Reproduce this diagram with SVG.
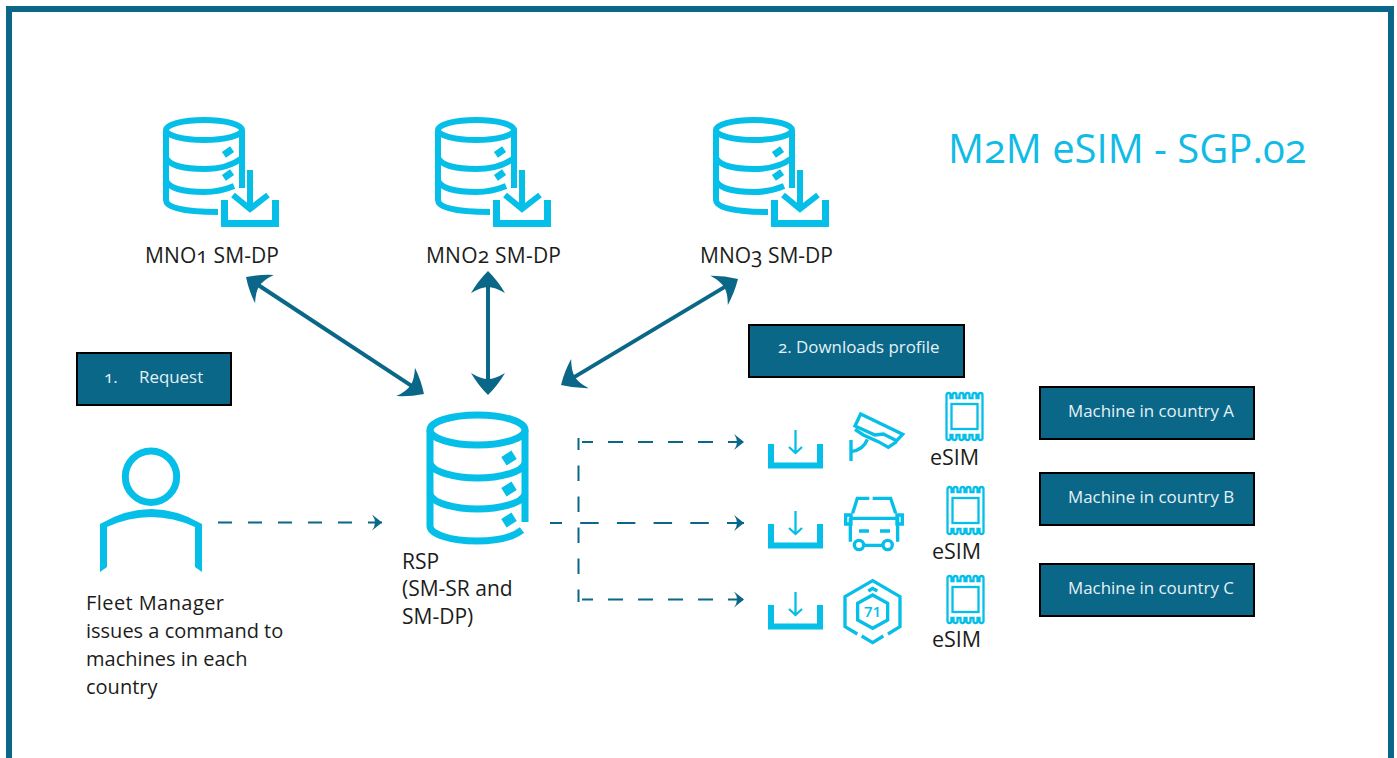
<svg xmlns="http://www.w3.org/2000/svg" width="1397" height="758" viewBox="0 0 1397 758">
<style>
text{font-family:"Open Sans","Noto Sans","Liberation Sans",sans-serif;font-variant-numeric:oldstyle-nums;fill:#1c1c1c;font-size:20px}
.lg{font-size:21px}
.box rect{fill:#0a6788;stroke:#000;stroke-width:2}
.box text{fill:#e4f1f6;font-size:16.900px}
.ic{fill:none;stroke:#05bfe9;stroke-width:6}
.ic7{fill:none;stroke:#05bfe9;stroke-width:7}
.t{fill:none;stroke:#05bfe9;stroke-width:2.3}
.tf{fill:#05bfe9;stroke:none}
.glyph{fill:none;stroke:#05bfe9;stroke-width:10}
.solid{fill:none;stroke:#0a6788;stroke-width:4;marker-start:url(#big);marker-end:url(#big)}
.dash{fill:none;stroke:#0a6788;stroke-width:2}
</style>
<defs>
<marker id="big" markerUnits="userSpaceOnUse" markerWidth="30" markerHeight="40" viewBox="-2 -20 30 40" refX="14" refY="0" orient="auto-start-reverse">
<path d="M22 0Q12 -10 0 -17Q6 -7 6 0Q6 7 0 17Q12 10 22 0Z" fill="#0a6788"/>
</marker>
<marker id="small" markerUnits="userSpaceOnUse" markerWidth="12" markerHeight="18" viewBox="-1 -9 12 18" refX="10" refY="0" orient="auto">
<path d="M10 0Q5 -4 0 -8Q3 -4 3 0Q3 4 0 8Q5 4 10 0Z" fill="#0a6788"/>
</marker>
<g id="dbsmall">
<ellipse class="ic" cx="204" cy="130" rx="38" ry="10"/>
<path class="ic" d="M166 130V200C166 208 185 212 218 212M242 130V188"/>
<path class="ic" d="M166 158Q172 169 204 169Q228 169 242 158M166 181Q172 192 204 192Q220 192 234 186"/>
<rect class="tf" x="-5" y="-3.500" width="10" height="7" transform="translate(228 152) rotate(-35)"/>
<rect class="tf" x="-5" y="-3.500" width="10" height="7" transform="translate(228 175) rotate(-35)"/>
<path class="ic7" d="M224.500 200V223.500H275.500V200"/>
<path class="ic" d="M250 170V208M233 195L250 209L268 195"/>
</g>
<g id="tray">
<path class="ic" d="M771 444V465.500H820V444"/>
</g>
<g id="chip">
<path class="t" d="M0 2Q0 0 2 0Q4 0 4 2V5H6V2Q6 0 8 0Q10 0 10 2V5H13V2Q13 0 15 0Q17 0 17 2V5H19V2Q19 0 21 0Q23 0 23 2V5H26V2Q26 0 28 0Q30 0 30 2V5H32V2Q32 0 34 0Q36 0 36 2V45Q36 47 34 47Q32 47 32 45V42H30V45Q30 47 28 47Q26 47 26 45V42H23V45Q23 47 21 47Q19 47 19 45V42H17V45Q17 47 15 47Q13 47 13 45V42H10V45Q10 47 8 47Q6 47 6 45V42H4V45Q4 47 2 47Q0 47 0 45Z"/>
<rect class="t" x="5" y="11" width="26" height="25"/>
</g>
</defs>
<rect x="9" y="9" width="1382" height="800" fill="#fff" stroke="#0a6788" stroke-width="6"/>
<g id="connectors">
<path class="solid" d="M252.700 281.400L417.300 389.600"/>
<path class="solid" d="M488 279V387"/>
<path class="solid" d="M731.100 283.100L567.900 380.900"/>
<path class="dash" stroke-dasharray="14 16" marker-end="url(#small)" d="M218 522.500H382"/>
<path class="dash" stroke-dasharray="15.500 15.500" stroke-dashoffset="3.500" d="M578.500 438V602"/>
<path class="dash" stroke-dasharray="15 15" stroke-dashoffset="4" marker-end="url(#small)" d="M582 442H744"/>
<path class="dash" stroke-dasharray="15 15" stroke-dashoffset="4" marker-end="url(#small)" d="M582 599.500H744"/>
<path class="dash" stroke-dasharray="18.500 18.200" stroke-dashoffset="6.500" marker-end="url(#small)" d="M550 523H744"/>
</g>
<g id="mno1"><use href="#dbsmall"/><text class="lg" x="145" y="263" textLength="134">MNO1 SM-DP</text></g>
<g id="mno2"><use href="#dbsmall" x="272"/><text class="lg" x="426" y="263" textLength="135">MNO2 SM-DP</text></g>
<g id="mno3"><use href="#dbsmall" x="550"/><text class="lg" x="700" y="263" textLength="133">MNO3 SM-DP</text></g>
<text id="title" x="948" y="163" style="font-size:40px;fill:#10bce6">M2M eSIM - SGP.02</text>
<g id="request" class="box"><rect x="77" y="353" width="154" height="52"/><text x="104" y="383">1.</text><text x="139" y="383">Request</text></g>
<g id="downloads" class="box"><rect x="749" y="325" width="215" height="52"/><text x="778" y="353">2. Downloads profile</text></g>
<g id="machineA" class="box"><rect x="1040" y="387" width="214" height="52"/><text x="1068" y="417">Machine in country A</text></g>
<g id="machineB" class="box"><rect x="1040" y="473" width="214" height="52"/><text x="1068" y="503">Machine in country B</text></g>
<g id="machineC" class="box"><rect x="1040" y="564" width="214" height="52"/><text x="1068" y="594">Machine in country C</text></g>
<g id="fleet">
<circle class="ic7" cx="151" cy="476.700" r="25.700"/>
<path class="tf" d="M100 524Q151 494 202 524V572L195 567V527Q151 507 107 527V567L100 572Z"/>
<text x="86" y="610" textLength="138">Fleet Manager</text>
<text x="86" y="638">issues a command to</text>
<text x="86" y="666">machines in each</text>
<text x="86" y="694">country</text>
</g>
<g id="rsp">
<ellipse class="ic7" cx="477.500" cy="430" rx="47.500" ry="15"/>
<path class="ic7" d="M430 430V526C430 534 450 541 477 541Q508 541 522 530M525 430V522"/>
<path class="ic7" d="M430 463C432 472 455 478 477.500 478C500 478 523 472 525 463M430 494C432 503 455 509 477.500 509C500 509 523 503 525 494"/>
<rect class="tf" x="-6" y="-5" width="12" height="10" transform="translate(509 458) rotate(-32)"/>
<rect class="tf" x="-6" y="-5" width="12" height="10" transform="translate(509 489) rotate(-32)"/>
<rect class="tf" x="-6" y="-5" width="12" height="10" transform="translate(509 520) rotate(-32)"/>
<text class="lg" x="402" y="569">RSP</text><text class="lg" x="402" y="596">(SM-SR and</text><text class="lg" x="402" y="624">SM-DP)</text>
</g>
<g id="machine1">
<use href="#tray"/><path class="t" d="M795.500 430V453M789 447L795.500 453L802 447"/>
<g transform="translate(750 390) scale(.3333)"><path class="glyph" d="M332 72L315 108L375 135L400 132L440 152L458 133ZM315 118L340 135L385 155L415 172L440 155M303 150V213M303 185Q340 180 352 148"/></g>
<use href="#chip" x="946.500" y="393"/>
<text class="lg" x="930" y="465" style="font-size:21.500px">eSIM</text>
</g>
<g id="machine2">
<use href="#tray" y="80"/><path class="t" d="M795.500 511V534M789 528L795.500 534L802 528"/>
<g transform="translate(750 480) scale(.3333)" class="glyph"><path d="M308 100L322 55H358M368 55H422L437 100M301 115H443V185M301 115V185M340 196H400M287 105H303V132H287ZM441 105H457V132H441ZM327 153H357M390 153H420"/><circle cx="327" cy="195" r="14"/><circle cx="413" cy="195" r="14"/></g>
<use href="#chip" x="947.500" y="487"/>
<text class="lg" x="932" y="559" style="font-size:21.500px">eSIM</text>
</g>
<g id="machine3">
<use href="#tray" y="161"/><path class="t" d="M795.500 592V615M789 609L795.500 615L802 609"/>
<g transform="translate(750 480) scale(.3333)" class="glyph"><path d="M322 462L285 440V350L368 302L450 350V440L414 462M335 468L368 488L400 468M368 345L413 370V420L368 445L323 420V370ZM355 333L368 325L382 333"/></g>
<text x="872.500" y="617" text-anchor="middle" style="font-size:15px;font-weight:600;fill:#05bfe9;font-variant-numeric:lining-nums">71</text>
<use href="#chip" x="947.500" y="576"/>
<text class="lg" x="932" y="647" style="font-size:21.500px">eSIM</text>
</g>
</svg>
